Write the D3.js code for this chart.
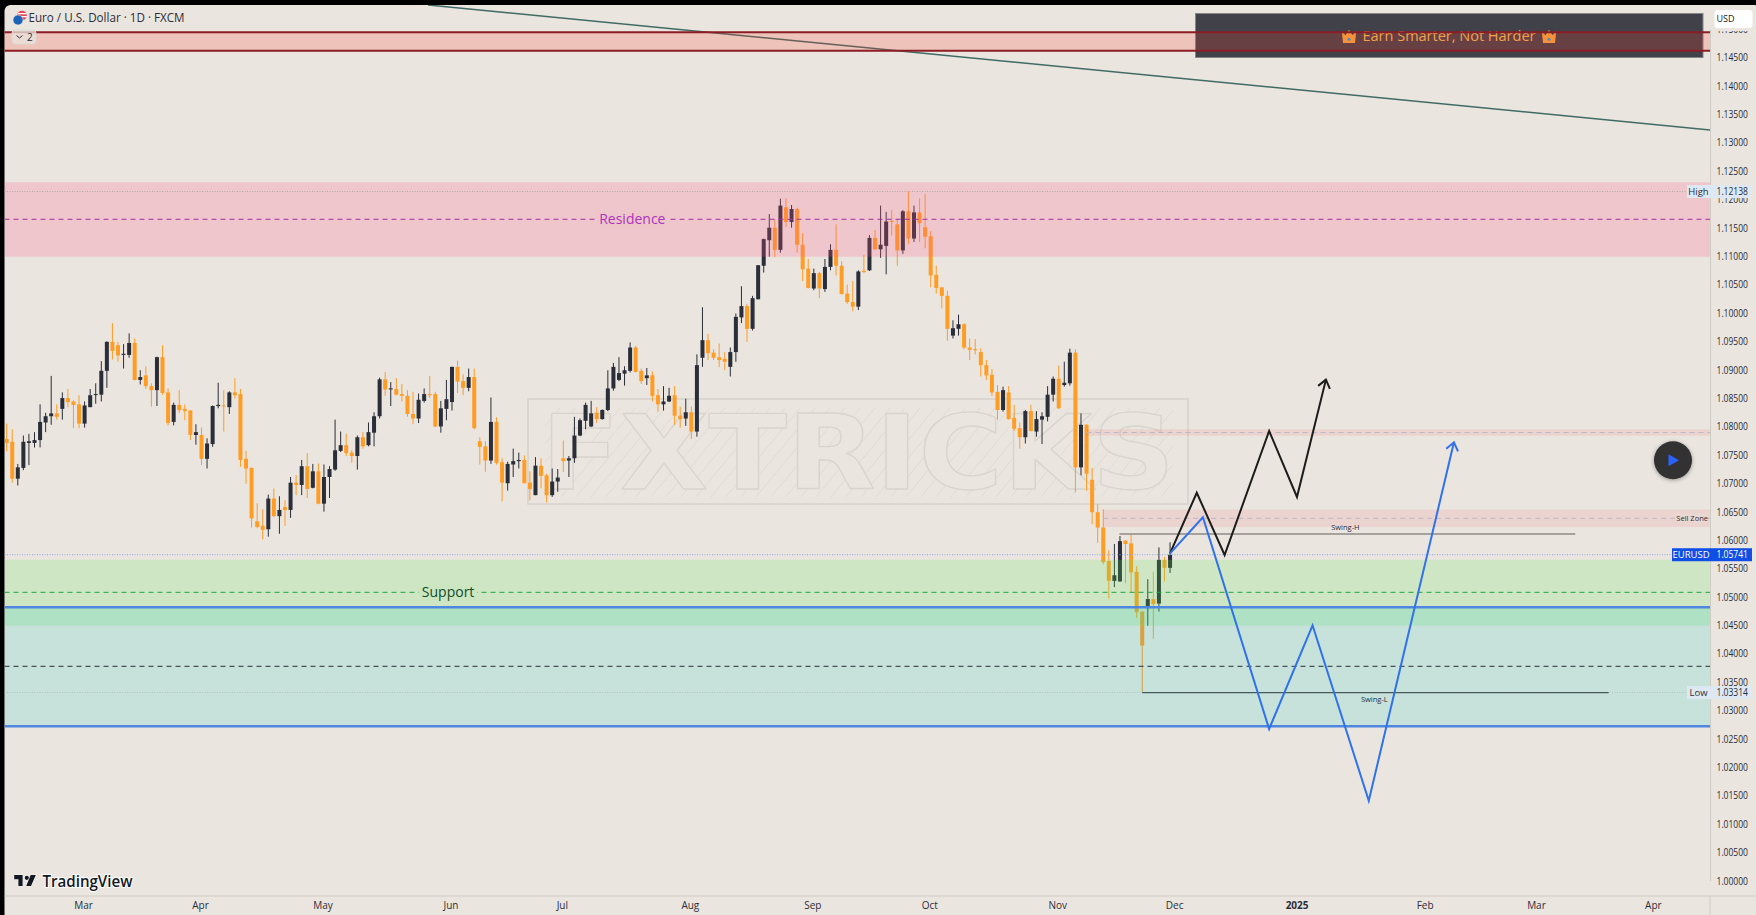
<!DOCTYPE html>
<html>
<head>
<meta charset="utf-8">
<script src="https://cdn.jsdelivr.net/npm/d3@7"></script>
<style>
html, body { margin: 0; padding: 0; background: #000; overflow: hidden; }
svg { display: block; }
text { font-family: "Open Sans", sans-serif; }
</style>
</head>
<body>
<svg id="chart" width="1756" height="915"></svg>
<script>
// daily EURUSD candles, in 1/10000 USD
const highs = [
10805,10795,10734,10784,10787,10790,10839,10824,10889,10839,
10860,10866,10846,10855,10844,10866,10876,10915,10950,10982,
10949,10945,10964,10955,10899,10906,10876,10923,10943,10867,
10842,10864,10839,10829,10804,10798,10779,10837,10877,10864,
10862,10885,10866,10757,10728,10665,10654,10680,10691,10677,
10670,10711,10714,10741,10753,10734,10735,10733,10730,10812,
10791,10787,10758,10784,10790,10807,10825,10886,10896,10878,
10885,10875,10864,10861,10858,10867,10889,10861,10845,10882,
10905,10916,10892,10902,10902,10781,10774,10851,10816,10744,
10738,10761,10754,10749,10721,10746,10744,10717,10726,10725,
10775,10748,10817,10814,10842,10845,10834,10830,10899,10912,
10922,10906,10948,10942,10902,10903,10897,10866,10871,10868,
10871,10835,10849,10835,10927,11010,10963,10936,10946,10931,
10939,10999,11047,11016,11030,11084,11131,11174,11165,11201,
11202,11190,11185,11140,11095,11078,11072,11095,11121,11156,
11091,11050,11056,11075,11102,11137,11146,11189,11178,11181,
11166,11181,11214,11189,11202,11209,11144,11083,11045,11039,
10987,10997,10982,10955,10954,10938,10917,10901,10873,10870,
10871,10838,10807,10829,10838,10827,10825,10871,10888,10907,
10914,10937,10936,10823,10804,10727,10663,10654,10582,10593,
10607,10600,10610,10554,10474,10531,10544,10587,10570,10596];
const lows = [
10756,10701,10696,10723,10732,10763,10763,10790,10803,10812,
10812,10834,10797,10797,10798,10834,10840,10844,10868,10918,
10914,10902,10921,10881,10874,10866,10835,10836,10856,10802,
10802,10824,10811,10776,10768,10732,10726,10764,10832,10791,
10822,10849,10729,10699,10622,10621,10601,10606,10641,10611,
10625,10639,10679,10679,10674,10691,10663,10650,10674,10722,
10755,10748,10736,10724,10761,10765,10765,10814,10854,10836,
10855,10844,10817,10804,10806,10842,10850,10799,10789,10811,
10828,10859,10855,10862,10795,10733,10720,10734,10733,10668,
10687,10711,10726,10700,10670,10679,10691,10666,10676,10685,
10720,10711,10736,10783,10795,10799,10806,10812,10827,10863,
10880,10872,10895,10895,10875,10873,10844,10826,10828,10843,
10803,10798,10801,10778,10782,10905,10917,10917,10905,10899,
10888,10914,10982,10949,10969,11024,11071,11099,11098,11106,
11151,11150,11106,11056,11043,11040,11026,11037,11075,11066,
11033,11016,11003,11005,11070,11074,11111,11097,11068,11136,
11083,11104,11121,11125,11125,11114,11045,11034,11008,10951,
10955,10960,10936,10917,10927,10888,10882,10854,10812,10826,
10812,10792,10761,10770,10791,10782,10769,10809,10844,10831,
10870,10872,10684,10714,10687,10628,10595,10557,10497,10517,
10527,10524,10507,10463,10331,10449,10426,10474,10527,10542];
const opens = [
10778,10773,10708,10727,10771,10771,10776,10807,10818,10823,
10831,10850,10844,10839,10805,10834,10856,10856,10898,10949,
10943,10926,10926,10947,10882,10890,10871,10864,10922,10860,
10808,10838,10831,10828,10785,10785,10743,10769,10836,10837,
10834,10860,10857,10743,10727,10633,10625,10619,10673,10642,
10658,10653,10701,10697,10730,10692,10721,10664,10711,10724,
10757,10767,10754,10748,10781,10767,10789,10818,10883,10866,
10866,10857,10854,10822,10814,10845,10857,10857,10800,10831,
10843,10905,10880,10868,10887,10774,10765,10740,10808,10737,
10700,10733,10739,10741,10701,10679,10731,10714,10679,10703,
10744,10740,10744,10784,10810,10800,10824,10813,10829,10867,
10882,10893,10898,10939,10898,10885,10890,10855,10839,10844,
10855,10819,10814,10825,10791,10921,10952,10930,10922,10919,
10905,10931,10992,11012,10972,11024,11083,11128,11150,11111,
11186,11160,11183,11120,11078,11043,11070,11042,11081,11111,
11083,11034,11019,11011,11074,11075,11132,11112,11118,11162,
11156,11110,11179,11131,11177,11151,11135,11067,11045,11030,
10960,10972,10980,10939,10936,10931,10908,10891,10861,10829,
10860,10815,10797,10781,10827,10791,10812,10817,10856,10884,
10873,10876,10930,10728,10803,10706,10649,10622,10563,10528,
10527,10599,10594,10544,10474,10480,10496,10488,10565,10551];
const closes = [
10771,10708,10728,10773,10774,10776,10808,10818,10823,10817,
10850,10843,10838,10805,10837,10855,10857,10898,10949,10933,
10925,10928,10947,10882,10887,10871,10864,10922,10859,10806,
10838,10829,10827,10785,10790,10743,10770,10836,10838,10836,
10860,10855,10741,10726,10638,10623,10618,10673,10642,10653,
10653,10701,10697,10730,10690,10721,10664,10711,10725,10758,
10767,10753,10748,10781,10765,10790,10818,10883,10865,10867,
10856,10854,10822,10814,10847,10857,10855,10800,10832,10848,
10905,10879,10868,10887,10797,10764,10740,10808,10736,10701,
10734,10739,10741,10700,10690,10731,10713,10679,10703,10710,
10739,10744,10784,10811,10838,10823,10813,10829,10867,10905,
10894,10899,10939,10896,10880,10890,10854,10839,10844,10854,
10819,10813,10825,10791,10908,10952,10929,10921,10917,10914,
10931,10993,11012,10972,11026,11084,11130,11150,11111,11189,
11160,11183,11120,11077,11044,11070,11043,11081,11111,11083,
11033,11019,11011,11073,11072,11132,11112,11120,11161,11161,
11110,11179,11131,11177,11158,11134,11066,11044,11030,10972,
10973,10980,10939,10935,10935,10908,10890,10860,10829,10864,
10813,10796,10781,10827,10792,10813,10818,10856,10884,10832,
10877,10930,10728,10803,10717,10649,10622,10561,10528,10538,
10598,10593,10543,10473,10414,10496,10487,10565,10551,10574];

// time axis: bar number where each label sits
const monthBars = [14,35,57,80,100,123,145,166,189,210,232,255,275,296];
const monthNames = ["Mar","Apr","May","Jun","Jul","Aug","Sep","Oct","Nov","Dec","2025","Feb","Mar","Apr"];
const priceTicks = d3.range(0, 31).map(i => 1 + i * 0.005);

// drawn tools: [top price, bottom price, mid price, first bar]
const topBand = [1.14942, 1.14618];
const residence = [1.1230, 1.1099, 1.11649];
const support = [1.05652, 1.04491, 1.05079];
const blueZone = [1.04815, 1.02719, 1.03776];
const sellZone = [1.06537, 1.0623, 1.06382, 197];
const upperZone = [1.0795, 1.07837, 1.07893, 194];
const lastPrice = 1.05741, highPrice = 1.12138, lowPrice = 1.03314;
const swingH = [199.9, 281.8, 1.06106];
const swingL = [204, 287.8, lowPrice];
const trendBars = [75.7, 306], trendPrices = [1.15423, 1.13221];
const blackBars = [209, 213.8, 218.8, 226.8, 231.8, 237];
const blackPrices = [1.05766, 1.06833, 1.05736, 1.0792, 1.06758, 1.08825];
const blueBars = [209, 214.9, 226.8, 234.6, 244.7, 260];
const bluePrices = [1.05766, 1.064, 1.02672, 1.04498, 1.01409, 1.07721];

const W = 1756, H = 915, plotR = 1710, plotB = 896;
const ink = "#2a2e39", orange = "#ff9c24", bg = "#eae5df";

const svg = d3.select("#chart");
const x = d3.scaleLinear().domain([0, 306]).range([6.67, plotR]);
const y = d3.scaleLinear().domain([1, 1.15]).range([880.7, 29]);

// page background with the rounded window corner
svg.append("rect").attr("x", 4.5).attr("y", 5).attr("width", W).attr("height", H)
  .attr("rx", 6).attr("fill", bg);

const defs = svg.append("defs");
defs.append("clipPath").attr("id", "plot").append("rect")
  .attr("x", 4.5).attr("y", 5).attr("width", plotR - 4.5).attr("height", plotB - 5);
const hatch = defs.append("pattern").attr("id", "hatch").attr("patternUnits", "userSpaceOnUse")
  .attr("width", 15).attr("height", 18);
hatch.append("path").attr("d", "M-3,21.6 L18,-3.6").attr("stroke", "#dfdbd5").attr("stroke-width", 1);
const glow = defs.append("filter").attr("id", "shadow");
glow.append("feDropShadow").attr("dx", 0).attr("dy", 1).attr("stdDeviation", 2).attr("flood-opacity", 0.35);

const plot = svg.append("g").attr("clip-path", "url(#plot)");

// watermark sits under the candles
const wm = plot.append("g");
wm.append("rect").attr("x", 545).attr("y", 408).attr("width", 628).attr("height", 89)
  .attr("fill", "url(#hatch)");
wm.append("text").attr("x", 541).attr("y", 489).attr("textLength", 634).attr("lengthAdjust", "spacingAndGlyphs")
  .attr("font-size", 104).attr("font-weight", 700).style("font-family", "DejaVu Sans")
  .attr("fill", bg).attr("stroke", "#d8d4ce").attr("stroke-width", 1.3).attr("stroke-linejoin", "round").text("FXTRICKS");
wm.append("rect").attr("x", 528).attr("y", 399).attr("width", 660).attr("height", 105)
  .attr("fill", "none").attr("stroke", "#d6d2cc").attr("stroke-width", 1.5);

// candles
const bars = highs.map((h, i) => ({ i: i, h: h / 1e4, l: lows[i] / 1e4, o: opens[i] / 1e4, c: closes[i] / 1e4 }));
const color = d => d.c >= d.o ? ink : orange;
plot.append("g").selectAll("line").data(bars).join("line")
  .attr("x1", d => x(d.i)).attr("x2", d => x(d.i))
  .attr("y1", d => y(d.h)).attr("y2", d => y(d.l))
  .attr("stroke", color).attr("stroke-width", 1);
plot.append("g").selectAll("rect").data(bars).join("rect")
  .attr("x", d => x(d.i) - 2).attr("width", 4)
  .attr("y", d => y(Math.max(d.o, d.c)))
  .attr("height", d => Math.max(1, Math.abs(y(d.o) - y(d.c))))
  .attr("fill", color);

// zones are translucent and lie over the candles
function zone(top, bottom, fill, firstBar) {
  const left = firstBar === undefined ? 4.5 : x(firstBar);
  plot.append("rect").attr("x", left).attr("width", plotR - left)
    .attr("y", y(top)).attr("height", y(bottom) - y(top)).attr("fill", fill);
}
function hline(price, stroke, width, dash, firstBar, lastBar) {
  const left = firstBar === undefined ? 4.5 : x(firstBar);
  const right = lastBar === undefined ? plotR : x(lastBar);
  plot.append("line").attr("x1", left).attr("x2", right).attr("y1", y(price)).attr("y2", y(price))
    .attr("stroke", stroke).attr("stroke-width", width).attr("stroke-dasharray", dash || null);
}
zone(residence[0], residence[1], "rgba(255,91,134,0.225)");
zone(support[0], support[1], "rgba(93,234,83,0.2)");
zone(blueZone[0], blueZone[1], "rgba(0,202,203,0.15)");
zone(sellZone[0], sellZone[1], "rgba(242,54,69,0.1)", sellZone[3]);
zone(upperZone[0], upperZone[1], "rgba(242,54,69,0.1)", upperZone[3]);

hline(highPrice, "#b5a9a9", 1, "1 1.5");
hline(lowPrice, "#b4c4c0", 1, "1 1.5");
hline(lastPrice, "#8fa8e8", 1, "1 1.5");
hline(residence[2], "#a32ea6", 1, "5 4");
hline(support[2], "#1fa544", 1, "5 4");
hline(blueZone[2], "#2a2e39", 1, "5 4");
hline(sellZone[2], "#b8b8c4", 1, "5 4", sellZone[3]);
hline(upperZone[2], "#b8b8c4", 1, "5 4", upperZone[3]);
hline(blueZone[0], "#4f86e0", 2.5);
hline(blueZone[1], "#4f86e0", 2.5);
hline(swingH[2], "#8e8a86", 1.5, null, swingH[0], swingH[1]);
hline(swingL[2], "#475a5a", 1.3, null, swingL[0], swingL[1]);

// trend line
plot.append("line").attr("x1", x(trendBars[0])).attr("x2", x(trendBars[1]))
  .attr("y1", y(trendPrices[0])).attr("y2", y(trendPrices[1]))
  .attr("stroke", "#3f6b64").attr("stroke-width", 1.5);

// promo banner, the red band fill goes on top of it and the dark lines over the text
svg.append("rect").attr("x", 1195.5).attr("y", 13.5).attr("width", 507.5).attr("height", 44)
  .attr("fill", "#41414a").attr("stroke", "#85858a").attr("stroke-width", 1);
svg.append("rect").attr("x", 4.5).attr("width", plotR - 4.5).attr("y", y(topBand[0]))
  .attr("height", y(topBand[1]) - y(topBand[0])).attr("fill", "rgba(255,60,40,0.2)");
svg.append("text").attr("x", 1449).attr("y", 41).attr("text-anchor", "middle")
  .attr("font-size", 14.5).attr("font-weight", 500).attr("fill", "#f6a04a").text("Earn Smarter, Not Harder");
[1349, 1549].forEach(cx => {
  const c = svg.append("g").attr("transform", `translate(${cx},37) scale(1.2)`);
  c.append("path").attr("d", "M-6,-5 L-3,-1.5 L0,-6 L3,-1.5 L6,-5 L5,5 L-5,5 Z").attr("fill", "#f5913a");
  c.append("circle").attr("r", 1.2).attr("cy", 2).attr("fill", "#3b8fd0");
});
topBand.forEach(p => {
  svg.append("line").attr("x1", 4.5).attr("x2", plotR).attr("y1", y(p)).attr("y2", y(p))
    .attr("stroke", "#8c1c26").attr("stroke-width", 2);
});

// forecast zigzags
const path = d3.line().x(d => x(d[0])).y(d => y(d[1]));
function zigzag(barsArr, prices, stroke, width) {
  const pts = barsArr.map((b, i) => [b, prices[i]]);
  plot.append("path").attr("d", path(pts)).attr("fill", "none")
    .attr("stroke", stroke).attr("stroke-width", width);
  const a = pts[pts.length - 2], b = pts[pts.length - 1];
  const ang = Math.atan2(y(b[1]) - y(a[1]), x(b[0]) - x(a[0]));
  const tx = x(b[0]), ty = y(b[1]);
  const barb = s => [tx - 10 * Math.cos(ang + s), ty - 10 * Math.sin(ang + s)];
  plot.append("path").attr("d", d3.line()([barb(0.65), [tx, ty], barb(-0.65)])).attr("fill", "none")
    .attr("stroke", stroke).attr("stroke-width", width);
}
zigzag(blackBars, blackPrices, "#1c1c1c", 2);
zigzag(blueBars, bluePrices, "#2f72ea", 2);

// zone labels, with a patch so the dashes break around them
function midLabel(txt, cx, price, fill, patch, w) {
  plot.append("rect").attr("x", cx - w / 2).attr("width", w).attr("y", y(price) - 8).attr("height", 16).attr("fill", patch);
  plot.append("text").attr("x", cx).attr("y", y(price)).attr("dy", "0.35em").attr("text-anchor", "middle")
    .attr("font-size", 14).attr("font-weight", 500).attr("fill", fill).text(txt);
}
midLabel("Residence", x(112.4), residence[2], "#ad32bd", "#eec6ca", 70);
midLabel("Support", x(79.3), support[2], "#0f4d2c", "#cde6c2", 58);

function small(txt, px, py, anchor) {
  plot.append("text").attr("x", px).attr("y", py).attr("dy", "0.35em").attr("text-anchor", anchor || "middle")
    .attr("font-size", 7.5).attr("fill", ink).text(txt);
}
small("Swing-H", x(240.5), y(swingH[2]) - 6.5);
small("Swing-L", x(245.7), y(swingL[2]) + 6.5);
plot.append("rect").attr("x", 1675).attr("width", 33).attr("y", y(sellZone[2]) - 5).attr("height", 10).attr("fill", "#ebd7d2");
small("Sell Zone", 1708, y(sellZone[2]), "end");

// axes
const yAxis = d3.axisRight(y).tickValues(priceTicks).tickSize(0).tickPadding(6.5).tickFormat(d3.format(".5f"));
const gy = svg.append("g").attr("transform", `translate(${plotR},0)`).call(yAxis);
gy.select(".domain").attr("stroke", "#cfcbc5");
gy.selectAll("text").attr("font-size", 10.5).attr("fill", ink).style("font-family", "Open Sans")
  .attr("textLength", 31.5).attr("lengthAdjust", "spacingAndGlyphs");

const xAxis = d3.axisBottom(x).tickValues(monthBars).tickSize(0).tickPadding(6)
  .tickFormat((d, i) => monthNames[i]);
const gx = svg.append("g").attr("transform", `translate(-1.5,${plotB})`).call(xAxis);
gx.select(".domain").remove();
gx.selectAll("text").attr("font-size", 10).attr("fill", ink).style("font-family", "Open Sans")
  .attr("font-weight", d => d === 232 ? 700 : 400);
svg.append("line").attr("x1", 4.5).attr("x2", W).attr("y1", plotB).attr("y2", plotB).attr("stroke", "#cfcbc5");
svg.append("line").attr("x1", plotR).attr("x2", plotR).attr("y1", plotB).attr("y2", H).attr("stroke", "#cfcbc5");

// price tags on the axis
function tag(price, name, value, fillBox, col, left) {
  const py = y(price);
  svg.append("rect").attr("x", left).attr("y", py - 6.5).attr("width", plotR + 42 - left).attr("height", 13).attr("fill", fillBox);
  svg.append("text").attr("x", (left + plotR) / 2).attr("y", py).attr("dy", "0.35em").attr("text-anchor", "middle")
    .attr("font-size", 9.5).attr("fill", col).text(name);
  svg.append("text").attr("x", plotR + 6.5).attr("y", py).attr("dy", "0.35em")
    .attr("font-size", 10.5).attr("fill", col).attr("textLength", 31.5).attr("lengthAdjust", "spacingAndGlyphs").text(value);
}
tag(highPrice, "High", d3.format(".5f")(highPrice), "#dde8f2", ink, 1687);
tag(lowPrice, "Low", d3.format(".5f")(lowPrice), "#dde8f2", ink, 1687);
tag(lastPrice, "EURUSD", d3.format(".5f")(lastPrice), "#0f4fe6", "#fff", 1672);

// USD box, the top tick label almost disappears behind it
svg.append("rect").attr("x", 1711).attr("y", 6).attr("width", 45).attr("height", 25).attr("fill", bg);
svg.append("rect").attr("x", 1714.5).attr("y", 10).attr("width", 38).attr("height", 18).attr("rx", 3).attr("fill", "#fff");
svg.append("text").attr("x", 1716.5).attr("y", 22).attr("font-size", 9).attr("fill", "#131722").text("USD");

// title and symbol icon
svg.append("circle").attr("cx", 22).attr("cy", 15.5).attr("r", 4.8).attr("fill", "#e8485a");
svg.append("path").attr("d", "M18,13.6 H26.5 M18,16.6 H26.8").attr("stroke", "#fff").attr("stroke-width", 1.2);
svg.append("circle").attr("cx", 18).attr("cy", 20).attr("r", 5).attr("fill", "#1b62b8").attr("stroke", bg).attr("stroke-width", 0.6);
svg.append("text").attr("x", 28.5).attr("y", 22).attr("font-size", 12).attr("fill", ink)
  .attr("textLength", 156).attr("lengthAdjust", "spacingAndGlyphs")
  .text("Euro / U.S. Dollar · 1D · FXCM");

// collapsed indicators button
svg.append("rect").attr("x", 12).attr("y", 30).attr("width", 24).attr("height", 14).attr("rx", 3)
  .attr("fill", "#e9e5df").attr("fill-opacity", 0.75).attr("stroke", "#ddd8d2");
svg.append("path").attr("d", "M16.5,35.5 L19.5,38 L22.5,35.5").attr("fill", "none").attr("stroke", ink);
svg.append("text").attr("x", 27).attr("y", 41).attr("font-size", 10).attr("fill", ink).text("2");

// play button
const play = svg.append("g").attr("transform", "translate(1673,460.3)");
play.append("circle").attr("r", 19).attr("fill", "#323232").attr("filter", "url(#shadow)");
play.append("path").attr("d", "M-4.5,-6 L6,0 L-4.5,6 Z").attr("fill", "#2962ff");

// TradingView logo
const logo = svg.append("g").attr("transform", "translate(14.2,871.5) scale(0.6)");
logo.append("path").attr("d", "M14 6H0v7h7v11h7V6Zm14 18h-8l7.5-18H36l-8 18ZM21 14a3.5 3.5 0 1 1 0-7 3.5 3.5 0 0 1 0 7Z")
  .attr("fill", "#131722").attr("stroke", "#fff").attr("stroke-width", 1).attr("paint-order", "stroke");
svg.append("text").attr("x", 42.5).attr("y", 887).attr("font-size", 16).attr("font-weight", 600)
  .attr("textLength", 90).attr("lengthAdjust", "spacingAndGlyphs")
  .attr("fill", "#131722").attr("stroke", "#fff").attr("stroke-width", 2).attr("paint-order", "stroke")
  .text("TradingView");
</script>
</body>
</html>
